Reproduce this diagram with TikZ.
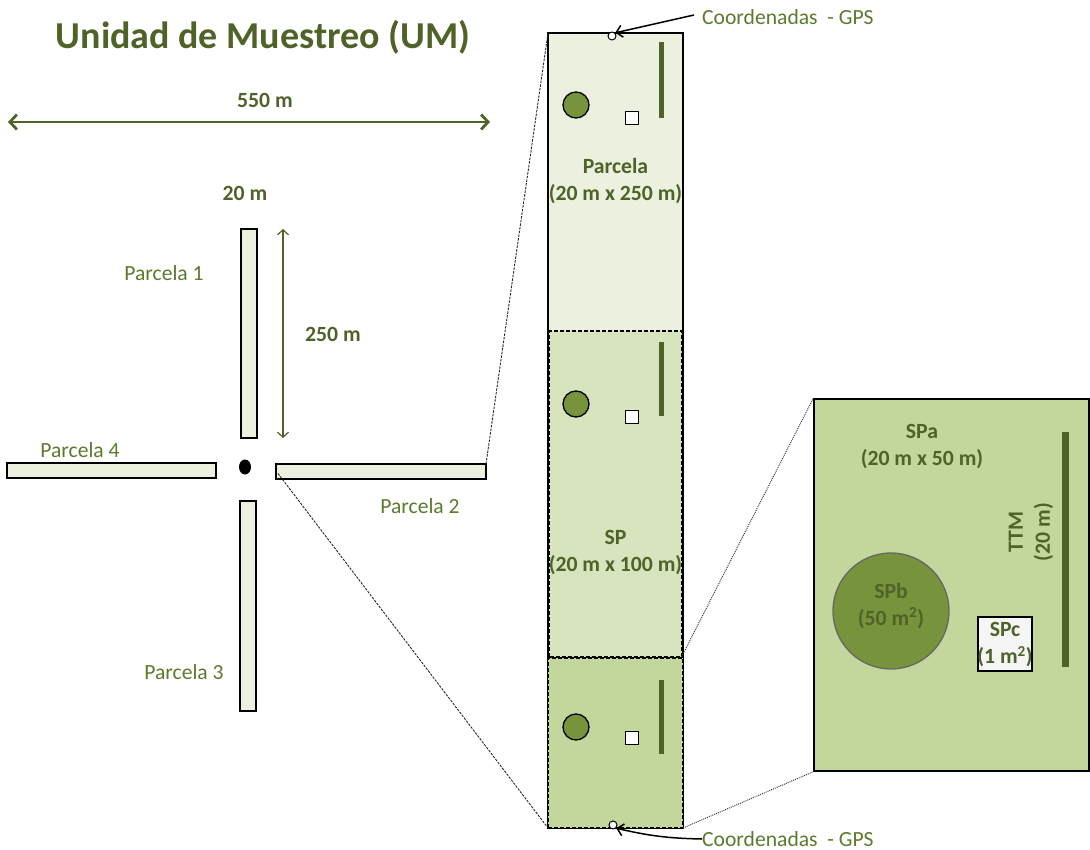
\documentclass[tikz,border=0pt]{standalone}
\usepackage{fontspec}
\setmainfont{Carlito}
\usetikzlibrary{arrows.meta,calc,shapes.geometric}
\definecolor{dkgreen}{HTML}{4F6228}
\definecolor{lblgreen}{HTML}{5B7A2E}
\definecolor{olivefill}{HTML}{77933C}
\definecolor{fillA}{HTML}{EBF1DE}
\definecolor{fillB}{HTML}{D7E4BD}
\definecolor{fillC}{HTML}{C3D69B}
\begin{document}
\begin{tikzpicture}[x=1pt,y=-1pt,
  lbl/.style={font=\fontsize{21.6}{27}\selectfont, text=lblgreen, inner sep=0},
  blbl/.style={font=\fontsize{21.7}{27}\selectfont\bfseries, text=dkgreen, inner sep=0, align=center},
  plotbox/.style={draw=black, line width=1.5pt, fill=fillA, inner sep=0, outer sep=0},
  dashbox/.style={draw=black, line width=1.5pt, dash pattern=on 4pt off 2pt, inner sep=0, outer sep=0},
  treecirc/.style={circle, draw=black, line width=1.3pt, fill=olivefill, minimum size=26, inner sep=0},
  sqbox/.style={draw=black, line width=1.3pt, fill=white, minimum size=13, inner sep=0},
  barbox/.style={fill=dkgreen, minimum width=5, inner sep=0, outer sep=0},
  gpsdot/.style={circle, draw=black, line width=1pt, fill=white, minimum size=8, inner sep=0},
  zoomline/.style={draw=black!85, line width=0.9pt, dash pattern=on 2.5pt off 1.2pt},
  dotline/.style={draw=black!75, line width=1pt, dash pattern=on 1pt off 1pt},
  gpsarrow/.style={draw=black, line width=1.5pt, -{Straight Barb[length=6pt,width=12pt]}}
]
\useasboundingbox (0,0) rectangle (1090,850);

% title and 550 m
\node[font=\fontsize{38}{42}\selectfont\bfseries, text=dkgreen, inner sep=0] (title) at (263,37) {Unidad de Muestreo (UM)};
\coordinate (a550l) at (8,122);
\coordinate (a550r) at (490,122);
\draw[dkgreen, line width=2.8pt, {Straight Barb[length=7pt,width=15pt]}-{Straight Barb[length=7pt,width=15pt]}] (a550l) -- (a550r);
\node[blbl] (l550) at (265,100) {550 m};
\node[blbl] (l20) at (245,193) {20 m};

% cross of plots
\node[plotbox, minimum width=16, minimum height=209] (p1) at (249,333.5) {};
\node[plotbox, minimum width=209, minimum height=15] (p4) at (111.5,470.5) {};
\node[plotbox, minimum width=210, minimum height=15] (p2) at (381,471.5) {};
\node[plotbox, minimum width=16, minimum height=210] (p3) at (248,606) {};
\node[ellipse, fill=black, minimum width=12, minimum height=15, inner sep=0] (ctr) at (245,467) {};
\node[lbl] (lp1) at (164,273) {Parcela 1};
\node[lbl] (lp4) at (80,450) {Parcela 4};
\node[lbl] (lp2) at (420,506) {Parcela 2};
\node[lbl] (lp3) at (184,672) {Parcela 3};

% 250 m arrow
\coordinate (a250t) at (283,229);
\coordinate (a250b) at (283,438);
\draw[dkgreen, line width=1.2pt, {Straight Barb[length=5pt,width=11pt]}-{Straight Barb[length=5pt,width=11pt]}] (a250t) -- (a250b);
\node[blbl] (l250) at (333,334) {250 m};

% middle column
\node[plotbox, minimum width=135, minimum height=795] (col) at (615.5,430.5) {};
\node[dashbox, fill=fillB, minimum width=132, minimum height=326] (sp) at (615.5,494) {};
\node[dashbox, fill=fillC, minimum width=135, minimum height=170] (spl) at (615.5,743) {};

\foreach \i/\yc/\ys/\yb/\hb in {1/105/118/80/76, 2/404/417/379/74, 3/727/738/717/74}{
  \node[treecirc] (tc\i) at (576,\yc) {};
  \node[sqbox] (sq\i) at (632,\ys) {};
  \node[barbox, minimum height=\hb] (bar\i) at (661,\yb) {};
}

\node[blbl] (lparc) at (615.5,181.5) {Parcela\\(20 m x 250 m)};
\node[blbl] (lsp) at (615.5,552.5) {SP\\(20 m x 100 m)};

% GPS
\node[gpsdot] (g1) at (612,36) {};
\node[gpsdot] (g2) at (613,825) {};
\node[lbl, anchor=west] (gps1) at (702,17) {Coordenadas\ \ - GPS};
\node[lbl, anchor=west] (gps2) at (702,839) {Coordenadas\ \ - GPS};
\draw[gpsarrow] (gps1.west) ++(-8,-2) -- (g1.north east);
\draw[gpsarrow] (gps2.west) to[bend left=6] (g2.south east);

% zoom lines from plot 2 to column
\draw[zoomline] (p2.north east) -- (col.north west);
\draw[zoomline] ($(p2.west)+(2,2)$) -- (col.south west);

% right detail box
\node[draw=black, line width=1.5pt, fill=fillC, minimum width=275, minimum height=372, inner sep=0] (det) at (951.5,585) {};
\draw[dotline] (sp.south east) -- (det.north west);
\draw[dotline] (col.south east) -- (det.south west);

\node[blbl] (lspa) at (922,447) {SPa\\(20 m x 50 m)};
\node[barbox, minimum width=7, minimum height=235] (ttmbar) at (1065,549.5) {};
\node[blbl, rotate=90] (lttm) at (1031,532) {TTM\\(20 m)};
\node[circle, draw=black!60, line width=1.3pt, fill=olivefill, minimum size=116, inner sep=0] (spb) at (891,611) {};
\node[blbl] (lspb) at (891,606) {SPb\\(50 m\textsuperscript{2})};
\node[draw=black, line width=1.5pt, fill=black!4, minimum width=54, minimum height=54, inner sep=0] (spc) at (1005,644) {};
\node[blbl] (lspc) at (1005,645) {SPc\\(1 m\textsuperscript{2})};
\end{tikzpicture}
\end{document}
